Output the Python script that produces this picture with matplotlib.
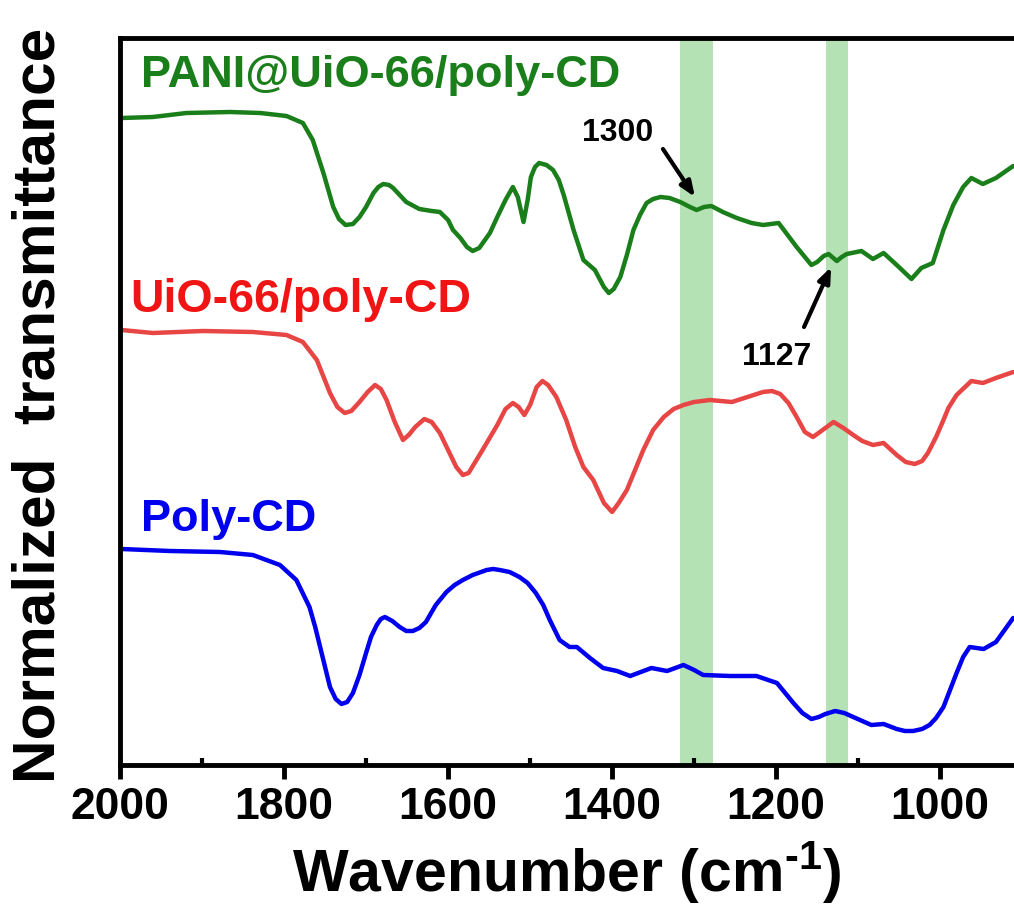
import numpy as np
import matplotlib
matplotlib.use('Agg')
import matplotlib.pyplot as plt
from matplotlib.ticker import MultipleLocator

# wavenumbers (cm-1) and transmittance (arbitrary units, offset)
wn_pani = [1998, 1960, 1919, 1866, 1829, 1797, 1777, 1765, 1752, 1740, 1733, 1725, 1716, 1708,
           1700, 1691, 1685, 1679, 1672, 1667, 1651, 1635, 1620, 1610, 1600, 1594, 1585, 1577,
           1570, 1562, 1549, 1540, 1530, 1521, 1515, 1508, 1503, 1499, 1494, 1489, 1480, 1472,
           1465, 1459, 1447, 1435, 1421, 1410, 1404, 1398, 1390, 1382, 1374, 1366, 1358, 1350,
           1341, 1330, 1317, 1305, 1297, 1288, 1279, 1265, 1248, 1230, 1216, 1197, 1175, 1157,
           1150, 1142, 1136, 1126, 1120, 1114, 1096, 1082, 1069, 1053, 1035, 1023, 1009, 996,
           984, 972, 962, 948, 932, 911]
t_pani = [647, 648, 652, 653, 652, 649, 642, 625, 592, 558, 546, 540, 541, 548,
          558, 572, 578, 581, 580, 577, 563, 556, 554, 553, 545, 535, 527, 518,
          514, 517, 532, 548, 565, 578, 568, 543, 565, 588, 598, 602, 600, 595,
          585, 570, 535, 505, 495, 478, 472, 476, 488, 510, 535, 550, 562, 566,
          568, 567, 563, 558, 555, 558, 559, 553, 547, 542, 540, 542, 518, 500,
          503, 509, 511, 504, 508, 511, 514, 506, 512, 500, 486, 497, 502, 535,
          560, 578, 587, 581, 587, 599]

wn_uio = [1998, 1960, 1899, 1838, 1797, 1777, 1760, 1744, 1735, 1726, 1718, 1708, 1698, 1689,
          1682, 1675, 1665, 1655, 1648, 1640, 1629, 1620, 1610, 1600, 1590, 1582, 1575, 1558,
          1540, 1530, 1521, 1514, 1507, 1500, 1492, 1485, 1478, 1468, 1456, 1445, 1435, 1423,
          1410, 1400, 1392, 1382, 1372, 1362, 1350, 1337, 1325, 1313, 1300, 1281, 1254, 1235,
          1216, 1205, 1195, 1185, 1175, 1165, 1155, 1145, 1130, 1118, 1106, 1095, 1082, 1069,
          1053, 1042, 1031, 1022, 1015, 1005, 996, 990, 980, 962, 948, 932, 911]
t_uio = [435, 432, 434, 433, 430, 423, 405, 372, 358, 352, 354, 363, 373, 380,
         376, 365, 343, 325, 330, 338, 346, 343, 332, 315, 298, 290, 292, 315,
         340, 356, 362, 358, 350, 360, 378, 384, 380, 368, 345, 318, 298, 285,
         262, 253, 262, 275, 295, 315, 335, 348, 356, 360, 363, 365, 363, 368,
         373, 374, 371, 362, 348, 333, 328, 334, 343, 337, 330, 324, 320, 322,
         310, 303, 301, 304, 312, 328, 345, 357, 370, 384, 382, 387, 393]

wn_cd = [1998, 1939, 1878, 1838, 1805, 1785, 1769, 1762, 1756, 1750, 1744, 1737, 1730, 1723,
         1716, 1708, 1700, 1694, 1687, 1682, 1677, 1668, 1659, 1651, 1643, 1635, 1627, 1615,
         1602, 1592, 1582, 1570, 1553, 1545, 1537, 1525, 1513, 1503, 1493, 1484, 1476, 1470,
         1464, 1452, 1443, 1427, 1411, 1394, 1378, 1365, 1352, 1333, 1313, 1300, 1289, 1256,
         1224, 1199, 1179, 1168, 1157, 1148, 1140, 1128, 1117, 1106, 1095, 1084, 1069, 1053,
         1043, 1033, 1022, 1013, 1005, 996, 988, 980, 972, 964, 947, 932, 911]
t_cd = [216, 214, 213, 210, 200, 185, 158, 138, 118, 98, 78, 66, 61, 63,
        72, 90, 112, 128, 140, 146, 148, 144, 138, 134, 134, 137, 143, 160,
        173, 180, 185, 190, 195, 196, 195, 193, 188, 182, 172, 160, 145, 135,
        125, 118, 118, 107, 97, 94, 89, 93, 97, 94, 100, 95, 90, 89,
        89, 82, 62, 52, 46, 48, 51, 54, 52, 48, 44, 40, 41, 36,
        34, 34, 36, 40, 47, 58, 75, 92, 108, 118, 116, 123, 147]

names = ['PANI@UiO-66/poly-CD', 'UiO-66/poly-CD', 'Poly-CD']
bands = [(1317, 1277), (1139, 1112)]

plt.rcParams['font.family'] = ['Liberation Sans', 'DejaVu Sans']
plt.rcParams['font.weight'] = 'bold'
plt.rcParams['mathtext.fontset'] = 'custom'
plt.rcParams['mathtext.rm'] = 'Liberation Sans:bold'
plt.rcParams['mathtext.bf'] = 'Liberation Sans:bold'
plt.rcParams['mathtext.default'] = 'bf'

fig = plt.figure(figsize=(10.14, 9.17), dpi=100)
ax = fig.add_axes([120/1014, 152/917, 1 - 120/1014, 727/917])

for lo, hi in bands:
    ax.axvspan(hi, lo, color='#b5e2b5', zorder=0, lw=0)

kw = dict(lw=3.2, solid_joinstyle='round', solid_capstyle='round')
ax.plot(wn_pani, t_pani, color='#1a7f1a', **kw)
ax.plot(wn_uio, t_uio, color='#e84545', **kw)
ax.plot(wn_cd, t_cd, color='#0000ee', **kw)

ax.text(1975, 690, names[0], color='#1a7f1a', fontsize=32.5, fontweight='bold', va='center')
ax.text(1988, 465, names[1], color='#f01414', fontsize=33.5, fontweight='bold', va='center')
ax.text(1975, 245, names[2], color='#0000ee', fontsize=32.5, fontweight='bold', va='center')

# peak markers: label text and arrow drawn separately
arrow = dict(arrowstyle='-|>,head_length=0.9,head_width=0.36', lw=3, color='black',
             shrinkA=0, shrinkB=0)
ax.text(1393, 632, '1300', fontsize=23, fontweight='bold', ha='center', va='center')
ax.annotate('', xy=(1299, 568), xytext=(1338, 616), arrowprops=arrow)
ax.text(1199, 408, '1127', fontsize=23, fontweight='bold', ha='center', va='center')
ax.annotate('', xy=(1133, 498), xytext=(1166, 438), arrowprops=arrow)

ax.set_xlim(2000, 910)
ax.set_ylim(0, 727)
ax.xaxis.set_major_locator(MultipleLocator(200))
ax.xaxis.set_minor_locator(MultipleLocator(100))
ax.tick_params(axis='x', which='major', direction='out', length=10, width=3.5, labelsize=32, pad=6)
ax.tick_params(axis='x', which='minor', direction='in', length=5, width=3)
ax.set_yticks([])
for s in ['left', 'top', 'bottom']:
    ax.spines[s].set_linewidth(3.5)
ax.spines['right'].set_visible(False)

ax.set_xlabel('Wavenumber (cm$^{\\text{-1}}$)', fontsize=42.5, fontweight='bold', labelpad=8)
ax.set_ylabel('Normalized  transmittance', fontsize=43.5, fontweight='bold')
ax.yaxis.set_label_coords(-0.06, 0.495)

fig.savefig('out.png', dpi=100)
